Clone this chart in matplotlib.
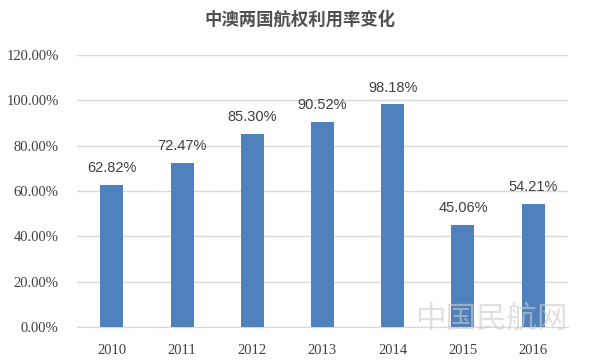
import matplotlib.pyplot as plt

years = ['2010', '2011', '2012', '2013', '2014', '2015', '2016']
rates = [62.82, 72.47, 85.30, 90.52, 98.18, 45.06, 54.21]
y_ticks = [0, 20, 40, 60, 80, 100, 120]

plt.rcParams['font.family'] = ['Noto Sans CJK SC', 'DejaVu Sans']

fig = plt.figure(figsize=(6, 3.63), dpi=100)
ax = fig.add_axes([0.128, 0.099, 0.819, 0.75])

x = range(len(years))
bars = ax.bar(x, rates, width=0.33, color='#4F81BD', zorder=3)
for xi, v in zip(x, rates):
    ax.text(xi, v + 4.3, '{:.2f}%'.format(v), ha='center', va='bottom',
            fontsize=10.5, color='#404040', family=['Liberation Sans'])

ax.set_xlim(-0.5, len(years) - 0.5)
ax.set_ylim(0, 120)
ax.set_yticks(y_ticks)
ax.set_yticklabels(['{:.2f}%'.format(t) for t in y_ticks],
                   family='Liberation Serif', fontsize=10.5, color='#404040')
ax.set_xticks(list(x))
ax.set_xticklabels(years, family='Liberation Serif', fontsize=10.5, color='#404040')
ax.tick_params(length=0)
ax.tick_params(axis='x', pad=12)
ax.tick_params(axis='y', pad=13)
ax.grid(axis='y', color='#D9D9D9', linewidth=1, zorder=0)
for s in ['top', 'right', 'left']:
    ax.spines[s].set_visible(False)
ax.spines['bottom'].set_color('#D9D9D9')

fig.text(0.5, 0.945, '中澳两国航权利用率变化', ha='center', va='center',
         fontsize=12.5, color='#505050', fontweight='bold')

# faint site watermark
fig.text(0.818, 0.12, '中国民航网', ha='center', va='center',
         fontsize=22, color='#cccccc', alpha=0.6, zorder=5)

fig.savefig('out.png', dpi=100)
